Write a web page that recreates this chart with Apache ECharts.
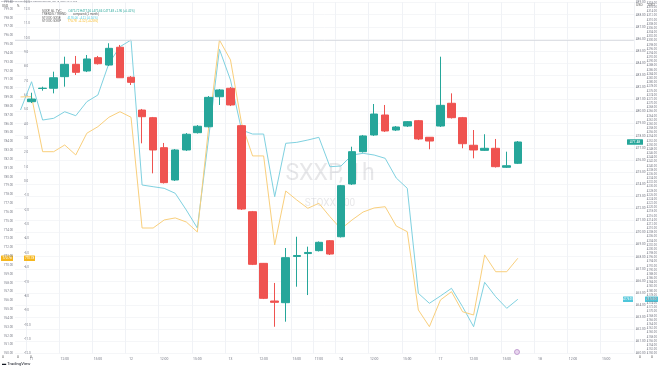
<!DOCTYPE html>
<html><head><meta charset="utf-8">
<script src="https://cdn.jsdelivr.net/npm/echarts@6/dist/echarts.min.js"></script>
<style>html,body{margin:0;padding:0;background:#fff}#c{width:660px;height:368px}</style>
</head><body><div id="c"></div>
<script>
// ---- data ----
const categories = ['09','10','11','12','13','14','15','16','17','09','10','11','12','13','14','15','16','17','09','10','11','12','13','14','15','16','17','18','09','10','11','12','13','14','15','16','17','09','10','11','12','13','14','15','16','17','a','b','c','d','e','f','g','h','i','j'];
const tickLabels = ['', '11','','','12:00','','','15:00','','','12','','','12:00','','','15:00','','','13','','','12:00','','','15:00','','17:00','','14','','','12:00','','','15:00','','','17','','','12:00','','','15:00','','','18','','','12:00','','','15:00','',''];
// candles
const sxxpOpen  = [null,480.81,481.90,481.92,482.88,483.90,483.35,484.45,483.84,485.31,482.83,480.12,479.49,477.01,474.34,476.82,478.25,478.74,481.22,481.92,478.83,471.72,467.45,464.34,464.20,468.02,468.26,468.50,469.32,469.65,474.01,476.68,478.06,479.71,478.47,478.80,479.24,477.87,478.80,480.68,479.49,477.21,476.79,476.96,475.39,475.72];
const sxxpClose = [null,481.03,481.93,482.79,483.90,483.24,484.34,483.95,485.22,482.79,482.41,479.57,476.82,474.12,476.82,478.12,478.78,481.17,481.78,480.54,471.94,467.37,464.56,464.23,467.92,468.10,468.35,469.19,468.22,473.87,476.68,477.98,479.79,478.39,478.72,479.16,477.73,477.56,480.51,479.49,477.34,476.82,476.96,475.44,475.52,477.48];
const sxxpLow   = [null,480.70,481.72,481.50,482.05,483.02,483.26,483.88,483.76,482.77,482.19,477.37,474.89,474.05,474.26,476.74,478.18,478.68,480.54,480.45,471.86,467.31,464.50,462.21,462.63,465.52,464.83,468.43,468.14,469.59,473.93,476.61,477.98,478.31,478.39,478.72,477.64,476.88,478.72,479.42,476.96,476.13,476.74,475.37,475.33,475.66];
const sxxpHigh  = [null,481.55,482.05,483.29,484.53,484.59,484.67,484.59,485.64,485.50,482.93,480.21,479.55,477.40,476.90,478.22,478.88,481.28,481.86,482.02,478.88,471.78,467.48,465.83,468.72,469.65,468.83,469.26,469.38,473.93,477.09,478.06,480.62,480.54,478.80,479.21,479.30,477.89,484.53,481.50,479.55,478.47,478.12,477.73,476.68,477.56];
const cyanSeries = [4266.79,4280.36,4261.99,4262.81,4265.97,4264.05,4270.77,4273.98,4289.19,4297.15,4300.36,4230.82,4230.00,4229.23,4226.84,4218.83,4210.19,4252.40,4295.90,4281.18,4257.19,4255.27,4255.27,4225.20,4250.82,4251.29,4252.40,4253.69,4239.59,4239.93,4245.20,4246.02,4245.20,4243.62,4234.17,4229.23,4178.87,4174.08,4177.58,4181.27,4172.45,4162.85,4184.15,4177.24,4171.68,4176.00];
const orangeSeries = [789.05,789.08,782.85,782.85,783.61,782.48,784.94,785.68,786.75,787.38,786.75,774.21,774.21,775.12,775.35,774.89,773.76,785.31,795.50,793.24,786.07,782.37,782.37,772.29,778.40,777.38,776.44,777.01,775.49,774.10,775.12,776.02,776.48,776.62,774.44,773.79,764.93,763.04,766.06,767.00,764.73,764.36,771.16,769.26,769.26,770.78];
const rangeHigh = 485.91; // horizontal reference line
// ---- chart ----
const UP='#26a69a', DOWN='#ef5350', CYAN='#7fd1e0', ORANGE='#f9cf7c';
const candles = sxxpOpen.map((o,i)=> o==null ? '-' : [o, sxxpClose[i], sxxpLow[i], sxxpHigh[i]]);
const lastClose = sxxpClose[sxxpClose.length-1];
const lastCyan = cyanSeries[cyanSeries.length-1];
const lastOrange = orangeSeries[orangeSeries.length-1];
const fmt = v => v.toFixed(2);
const chart = echarts.init(document.getElementById('c'), null, {renderer:'canvas'});
const FF = 'Roboto, sans-serif';
const labelBase = {fontFamily:FF, fontSize:3.2, color:'#787b86'};
chart.setOption({
  animation:false,
  backgroundColor:'#fff',
  grid:{left:15, right:26, top:2, bottom:14.5, show:false},
  xAxis:{type:'category', data:categories, boundaryGap:true,
    axisLine:{show:false}, axisTick:{show:false},
    axisLabel:{interval:0, margin:4, ...labelBase, fontSize:3.4, formatter:(v,i)=>tickLabels[i]},
    splitLine:{show:true, interval:(i)=> tickLabels[i]!=='' , lineStyle:{color:'#f0f2f6', width:1}}},
  yAxis:[
    {type:'value', position:'right', min:460, max:489.05, interval:1,
      axisLine:{show:false}, axisTick:{show:false},
      axisLabel:{...labelBase, margin:2, formatter:fmt},
      splitLine:{show:true, lineStyle:{color:'#f5f6f8'}}},
    {type:'value', position:'right', offset:13, min:4150, max:4318.6, interval:2,
      axisLine:{show:false}, axisTick:{show:false},
      axisLabel:{...labelBase, fontSize:2.8, margin:0, formatter:fmt}, splitLine:{show:false}},
    {type:'value', position:'left', min:760, max:799.8, interval:1,
      axisLine:{show:false}, axisTick:{show:false},
      axisLabel:{...labelBase, fontSize:3, margin:2, formatter:fmt}, splitLine:{show:false}},
    {type:'value', position:'left', offset:-9, min:-12, max:12.5, interval:1,
      axisLine:{show:false}, axisTick:{show:false},
      axisLabel:{...labelBase, fontSize:3, margin:0, align:'left', formatter:v=>v.toFixed(1)}, splitLine:{show:false}}
  ],
  series:[
    {type:'line', name:'cyan', yAxisIndex:1, data:cyanSeries, symbol:'none', lineStyle:{color:CYAN, width:1}, z:2},
    {type:'line', name:'orange', yAxisIndex:2, data:orangeSeries, symbol:'none', lineStyle:{color:ORANGE, width:1}, z:2},
    {type:'candlestick', name:'SXXP', yAxisIndex:0, data:candles, barWidth:8, z:3,
      itemStyle:{color:UP, color0:DOWN, borderColor:UP, borderColor0:DOWN, borderWidth:1},
      markLine:{silent:true, symbol:'none', label:{show:false}, data:[{yAxis:rangeHigh}],
        lineStyle:{color:'#d6d8de', width:0.8, type:'solid'}}}
  ]
});
// value tags placed through the library's scales
const yC = chart.convertToPixel({yAxisIndex:0}, lastClose);
const yCy = chart.convertToPixel({yAxisIndex:1}, lastCyan);
const yO = chart.convertToPixel({yAxisIndex:2}, lastOrange);
function tag(x, y, w, text, bg, fs){
  return {type:'group', x:x, y:y, z:50, children:[
    {type:'rect', shape:{x:0, y:-2.8, width:w, height:5.6, r:0.5}, style:{fill:bg}},
    {type:'text', style:{x:w/2, y:0, text:text, fontSize:fs||3.4, fontFamily:FF, fill:'#fff', align:'center', verticalAlign:'middle'}}
  ]};
}
const LF = 2.9;
chart.setOption({graphic:[
  {type:'text', left:'center', top:163, z:0, style:{text:'SXXP, 1h', fontSize:23, fontFamily:FF, fill:'rgba(120,123,134,0.18)'}},
  {type:'text', left:'center', top:198, z:0, style:{text:'STOXX 600', fontSize:10, fontFamily:FF, fill:'rgba(120,123,134,0.18)'}},
  {type:'text', left:1, top:0.5, style:{text:'Friedrichsenlink published on TradingView.com, Jan 18, 2022 15:14 UTC', fontSize:2.4, fontFamily:FF, fill:'#787b86'}},
  {type:'text', left:2, top:5, style:{text:'USD', fontSize:3.2, fontFamily:FF, fill:'#555'}},
  {type:'text', left:17, top:5, style:{text:'%', fontSize:3.2, fontFamily:FF, fill:'#555'}},
  {type:'text', left:42, top:5.2, style:{rich:{a:{fontSize:LF,fill:'#555'},b:{fontSize:LF,fill:UP}}, text:'{a|SXXP, 60, TVC}  {b|O475.72 H477.56 L475.66 C477.48 +1.96 (+0.41%)}'}},
  {type:'text', left:42, top:8.5, style:{rich:{a:{fontSize:LF,fill:'#555'},b:{fontSize:LF,fill:'#555'}}, text:'{a|TRENDS / TREND}  {b|compared (1 month)}'}},
  {type:'text', left:42, top:11.8, style:{rich:{a:{fontSize:LF,fill:'#555'},b:{fontSize:LF,fill:'#4fc6da'}}, text:'{a|STOXX: SX5E}  {b|4176.00  -4.11 (-0.10%)}'}},
  {type:'text', left:42, top:15.1, style:{rich:{a:{fontSize:LF,fill:'#555'},b:{fontSize:LF,fill:'#f6b71e'}}, text:'{a|STOXX: SXKP}  {b|770.78  +1.52 (+0.20%)}'}},
  {type:'text', left:636, top:3.5, style:{text:'USD', fontSize:3.2, fill:'#555'}},
  {type:'text', left:648, top:3.5, style:{text:'USD', fontSize:3.2, fill:'#555'}},
  {type:'text', left:2, top:355, style:{text:'0', fontSize:3.6, fill:'#555'}},
  {type:'text', left:17, top:355, style:{text:'0', fontSize:3.6, fill:'#555'}},
  {type:'text', left:30, top:355, style:{text:'0', fontSize:3.6, fill:'#555'}},
  {type:'text', left:639, top:355, style:{text:'0', fontSize:3.6, fill:'#555'}},
  {type:'text', left:651, top:355, style:{text:'0', fontSize:3.6, fill:'#555'}},
  {type:'text', left:2, top:362, style:{text:'\u25AC TradingView', fontSize:4.2, fontFamily:FF, fill:'#131722'}},
  {type:'circle', shape:{cx:517, cy:352, r:2.5}, style:{fill:'#e8d6ef', stroke:'#b58cc8', lineWidth:0.8}},
  tag(627, yC, 16, fmt(lastClose), UP, 3.4),
  tag(623, yCy, 10, fmt(lastCyan), '#4fc6da', 2.6),
  tag(645, yCy, 13, fmt(lastCyan), '#4fc6da', 2.8),
  tag(1, yO, 12, fmt(lastOrange), '#f6b71e', 3),
  tag(24, yO, 11, fmt(lastOrange), '#f6b71e', 3)
]});
</script></body></html>
